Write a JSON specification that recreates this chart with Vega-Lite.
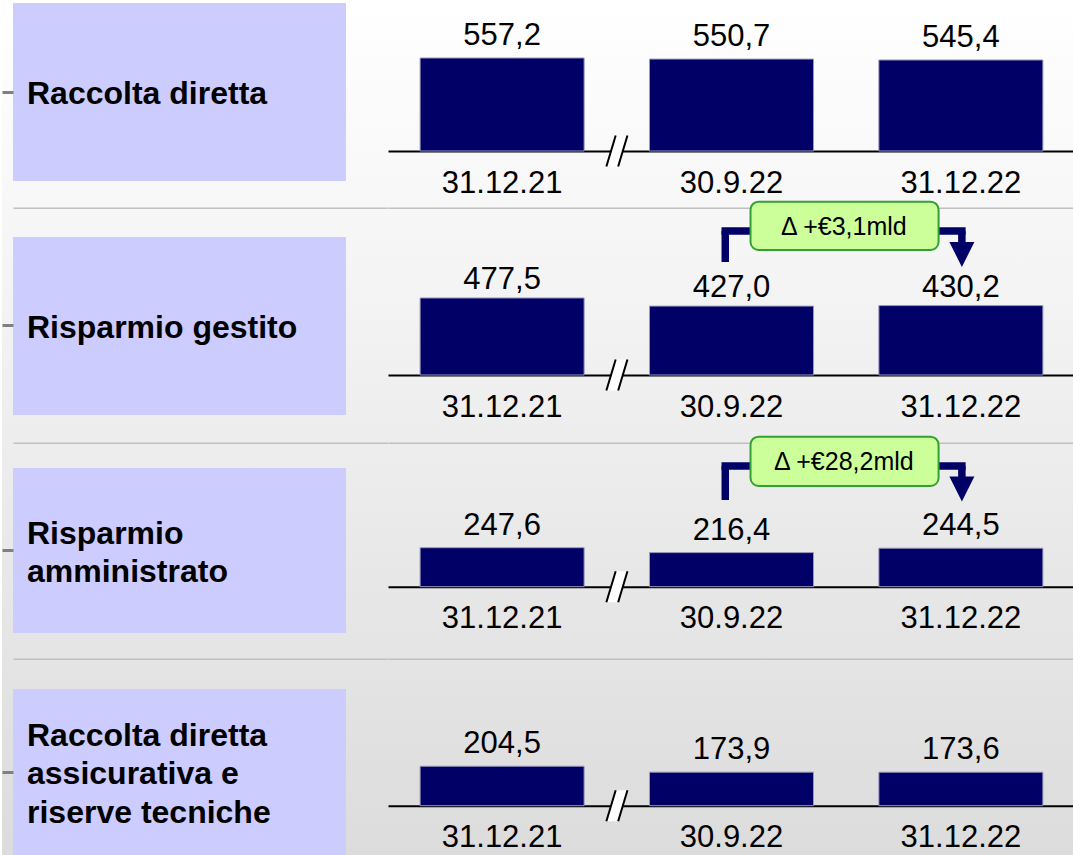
{
  "$schema": "https://vega.github.io/schema/vega-lite/v6.json",
  "padding": 0,
  "background": "#ffffff",
  "config": {
    "view": {"stroke": null},
    "font": "Liberation Sans",
    "text": {"font": "Liberation Sans"},
    "axis": {"labelFont": "Liberation Sans"},
    "locale": {"number": {"decimal": ",", "thousands": ".", "grouping": [3], "currency": ["€", ""]}}
  },
  "datasets": {
    "vals": [
      {"cat": "Raccolta diretta", "date": "31.12.21", "value": 557.2},
      {"cat": "Raccolta diretta", "date": "30.9.22", "value": 550.7},
      {"cat": "Raccolta diretta", "date": "31.12.22", "value": 545.4},
      {"cat": "Risparmio gestito", "date": "31.12.21", "value": 477.5},
      {"cat": "Risparmio gestito", "date": "30.9.22", "value": 427.0},
      {"cat": "Risparmio gestito", "date": "31.12.22", "value": 430.2},
      {"cat": "Risparmio amministrato", "date": "31.12.21", "value": 247.6},
      {"cat": "Risparmio amministrato", "date": "30.9.22", "value": 216.4},
      {"cat": "Risparmio amministrato", "date": "31.12.22", "value": 244.5},
      {"cat": "Raccolta diretta assicurativa e riserve tecniche", "date": "31.12.21", "value": 204.5},
      {"cat": "Raccolta diretta assicurativa e riserve tecniche", "date": "30.9.22", "value": 173.9},
      {"cat": "Raccolta diretta assicurativa e riserve tecniche", "date": "31.12.22", "value": 173.6}
    ],
    "labels": [
      {"cat": "Raccolta diretta", "label": "Raccolta diretta"},
      {"cat": "Risparmio gestito", "label": "Risparmio gestito"},
      {"cat": "Risparmio amministrato", "label": "Risparmio\namministrato"},
      {"cat": "Raccolta diretta assicurativa e riserve tecniche", "label": "Raccolta diretta\nassicurativa e\nriserve tecniche"}
    ],
    "breaks": [
      {"cat": "Raccolta diretta", "after": "31.12.21"},
      {"cat": "Risparmio gestito", "after": "31.12.21"},
      {"cat": "Risparmio amministrato", "after": "31.12.21"},
      {"cat": "Raccolta diretta assicurativa e riserve tecniche", "after": "31.12.21"}
    ],
    "deltas": [
      {"cat": "Risparmio gestito", "from": "30.9.22", "to": "31.12.22", "text": "Δ +€3,1mld"},
      {"cat": "Risparmio amministrato", "from": "30.9.22", "to": "31.12.22", "text": "Δ +€28,2mld"}
    ]
  },
  "columns": 2,
  "spacing": 0,
  "bounds": "flush",
  "align": "each",
  "concat": [
    {
      "width": 386, "height": 209,
      "view": {"stroke": null, "fill": {"gradient": "linear", "x1": 0, "y1": 0, "x2": 0, "y2": 1, "stops": [{"offset": 0, "color": "#ffffff"}, {"offset": 1, "color": "#f7f7f7"}]}},
      "data": {"name": "labels"},
      "transform": [{"filter": "datum.cat === 'Raccolta diretta'"}],
      "encoding": {
        "y": {"field": "label", "type": "nominal", "scale": {"paddingInner": 0, "paddingOuter": 0.08708, "align": 0.0968}, "axis": {"orient": "left", "offset": -11, "labels": false, "domain": false, "ticks": true, "tickSize": 11, "tickWidth": 3, "tickColor": "#808080", "title": null, "grid": false}}
      },
      "layer": [
        {"mark": {"type": "rect", "color": "#ccccff"},
         "encoding": {"x": {"field": "label", "type": "nominal", "scale": {"range": [11, 386], "paddingInner": 0, "paddingOuter": 0.06306, "align": 0}, "axis": {"orient": "bottom", "offset": -1, "labels": false, "ticks": false, "tickSize": 0, "domainColor": "#c0c0c0", "domainWidth": 2, "title": null, "grid": false}}}},
        {"mark": {"type": "text", "align": "left", "baseline": "middle", "dx": 14, "dy": 2, "fontSize": 32, "fontWeight": "bold", "lineBreak": "\n", "lineHeight": 38.3, "color": "#000000"},
         "encoding": {"x": {"field": "label", "type": "nominal", "bandPosition": 0, "axis": {"orient": "bottom", "offset": -1, "labels": false, "ticks": false, "tickSize": 0, "domainColor": "#c0c0c0", "domainWidth": 2, "title": null, "grid": false}}, "text": {"field": "label"}}}
      ]
    },
    {
      "width": 687, "height": 209,
      "view": {"stroke": null, "fill": {"gradient": "linear", "x1": 0, "y1": 0, "x2": 0, "y2": 1, "stops": [{"offset": 0, "color": "#ffffff"}, {"offset": 1, "color": "#f7f7f7"}]}},
      "resolve": {"axis": {"x": "independent"}},
      "layer": [
        {"data": {"name": "vals"}, "transform": [{"filter": "datum.cat === 'Raccolta diretta'"}],
         "mark": {"type": "bar", "color": "#000066", "stroke": "#9999bb", "strokeWidth": 1},
         "encoding": {
           "x": {"field": "date", "type": "nominal", "scale": {"domain": ["31.12.21", "30.9.22", "31.12.22"], "paddingInner": 0.285, "paddingOuter": 0.14}, "axis": {"orient": "bottom", "offset": -58, "title": null, "ticks": false, "tickSize": 0, "labelPadding": 17, "labelFontSize": 31, "labelFont": "Liberation Sans", "labelColor": "#000000", "labelAngle": 0, "domainColor": "#000000", "domainWidth": 2, "grid": false}},
           "y": {"field": "value", "type": "quantitative", "scale": {"domain": [-347.5, 904.7], "nice": false, "zero": false}, "axis": null},
           "y2": {"datum": 0}
         }},
        {"data": {"name": "vals"}, "transform": [{"filter": "datum.cat === 'Raccolta diretta'"}],
         "mark": {"type": "text", "baseline": "alphabetic", "dy": -13, "fontSize": 31, "color": "#000000"},
         "encoding": {
           "x": {"field": "date", "type": "nominal", "axis": {"orient": "bottom", "offset": -1, "labels": false, "ticks": false, "tickSize": 0, "domainColor": "#c0c0c0", "domainWidth": 2, "title": null, "grid": false}},
           "y": {"field": "value", "type": "quantitative", "axis": null},
           "text": {"field": "value", "type": "quantitative", "format": ".1f"}
         }},
        {"data": {"name": "breaks"}, "transform": [{"filter": "datum.cat === 'Raccolta diretta'"}],
         "mark": {"type": "point", "shape": "M-0.68,1L-0.08,-1L0.68,-1L0.08,1Z", "filled": true, "color": "#ffffff", "strokeWidth": 0, "opacity": 1, "size": 961},
         "encoding": {"x": {"field": "after", "type": "nominal", "bandPosition": 1.2, "axis": null}, "y": {"datum": 0, "axis": null}}},
        {"data": {"name": "breaks"}, "transform": [{"filter": "datum.cat === 'Raccolta diretta'"}],
         "mark": {"type": "point", "shape": "M-0.68,1L-0.08,-1M0.08,1L0.68,-1", "filled": false, "color": "#000000", "strokeWidth": 2, "opacity": 1, "size": 961},
         "encoding": {"x": {"field": "after", "type": "nominal", "bandPosition": 1.2, "axis": null}, "y": {"datum": 0, "axis": null}}}
      ]
    },
    {
      "width": 386, "height": 235,
      "view": {"stroke": null, "fill": {"gradient": "linear", "x1": 0, "y1": 0, "x2": 0, "y2": 1, "stops": [{"offset": 0, "color": "#f7f7f7"}, {"offset": 1, "color": "#ededed"}]}},
      "data": {"name": "labels"},
      "transform": [{"filter": "datum.cat === 'Risparmio gestito'"}],
      "encoding": {
        "y": {"field": "label", "type": "nominal", "scale": {"paddingInner": 0, "paddingOuter": 0.16011, "align": 0.4912}, "axis": {"orient": "left", "offset": -11, "labels": false, "domain": false, "ticks": true, "tickSize": 11, "tickWidth": 3, "tickColor": "#808080", "title": null, "grid": false}}
      },
      "layer": [
        {"mark": {"type": "rect", "color": "#ccccff"},
         "encoding": {"x": {"field": "label", "type": "nominal", "scale": {"range": [11, 386], "paddingInner": 0, "paddingOuter": 0.06306, "align": 0}, "axis": {"orient": "bottom", "offset": -1, "labels": false, "ticks": false, "tickSize": 0, "domainColor": "#c0c0c0", "domainWidth": 2, "title": null, "grid": false}}}},
        {"mark": {"type": "text", "align": "left", "baseline": "middle", "dx": 14, "dy": 2, "fontSize": 32, "fontWeight": "bold", "lineBreak": "\n", "lineHeight": 38.3, "color": "#000000"},
         "encoding": {"x": {"field": "label", "type": "nominal", "bandPosition": 0, "axis": {"orient": "bottom", "offset": -1, "labels": false, "ticks": false, "tickSize": 0, "domainColor": "#c0c0c0", "domainWidth": 2, "title": null, "grid": false}}, "text": {"field": "label"}}}
      ]
    },
    {
      "width": 687, "height": 235,
      "view": {"stroke": null, "fill": {"gradient": "linear", "x1": 0, "y1": 0, "x2": 0, "y2": 1, "stops": [{"offset": 0, "color": "#f7f7f7"}, {"offset": 1, "color": "#ededed"}]}},
      "resolve": {"axis": {"x": "independent"}},
      "layer": [
        {"data": {"name": "vals"}, "transform": [{"filter": "datum.cat === 'Risparmio gestito'"}],
         "mark": {"type": "bar", "color": "#000066", "stroke": "#9999bb", "strokeWidth": 1},
         "encoding": {
           "x": {"field": "date", "type": "nominal", "scale": {"domain": ["31.12.21", "30.9.22", "31.12.22"], "paddingInner": 0.285, "paddingOuter": 0.14}, "axis": {"orient": "bottom", "offset": -69, "title": null, "ticks": false, "tickSize": 0, "labelPadding": 17, "labelFontSize": 31, "labelFont": "Liberation Sans", "labelColor": "#000000", "labelAngle": 0, "domainColor": "#000000", "domainWidth": 2, "grid": false}},
           "y": {"field": "value", "type": "quantitative", "scale": {"domain": [-427.8, 1029.1], "nice": false, "zero": false}, "axis": null},
           "y2": {"datum": 0}
         }},
        {"data": {"name": "vals"}, "transform": [{"filter": "datum.cat === 'Risparmio gestito'"}],
         "mark": {"type": "text", "baseline": "alphabetic", "dy": -9, "fontSize": 31, "color": "#000000"},
         "encoding": {
           "x": {"field": "date", "type": "nominal", "axis": {"orient": "bottom", "offset": -1, "labels": false, "ticks": false, "tickSize": 0, "domainColor": "#c0c0c0", "domainWidth": 2, "title": null, "grid": false}},
           "y": {"field": "value", "type": "quantitative", "axis": null},
           "text": {"field": "value", "type": "quantitative", "format": ".1f"}
         }},
        {"data": {"name": "breaks"}, "transform": [{"filter": "datum.cat === 'Risparmio gestito'"}],
         "mark": {"type": "point", "shape": "M-0.68,1L-0.08,-1L0.68,-1L0.08,1Z", "filled": true, "color": "#ffffff", "strokeWidth": 0, "opacity": 1, "size": 961},
         "encoding": {"x": {"field": "after", "type": "nominal", "bandPosition": 1.2, "axis": null}, "y": {"datum": 0, "axis": null}}},
        {"data": {"name": "breaks"}, "transform": [{"filter": "datum.cat === 'Risparmio gestito'"}],
         "mark": {"type": "point", "shape": "M-0.68,1L-0.08,-1M0.08,1L0.68,-1", "filled": false, "color": "#000000", "strokeWidth": 2, "opacity": 1, "size": 961},
         "encoding": {"x": {"field": "after", "type": "nominal", "bandPosition": 1.2, "axis": null}, "y": {"datum": 0, "axis": null}}},
        {"data": {"name": "deltas"}, "transform": [{"filter": "datum.cat === 'Risparmio gestito'"}],
         "mark": {"type": "rule", "color": "#000066", "strokeWidth": 7.5, "strokeCap": "square"},
         "encoding": {"x": {"field": "from", "type": "nominal", "bandPosition": 0.462, "axis": null}, "x2": {"field": "to", "bandPosition": 0.506}, "y": {"datum": 892.7, "axis": null}}},
        {"data": {"name": "deltas"}, "transform": [{"filter": "datum.cat === 'Risparmio gestito'"}],
         "mark": {"type": "rule", "color": "#000066", "strokeWidth": 7.5},
         "encoding": {"x": {"field": "from", "type": "nominal", "bandPosition": 0.462, "axis": null}, "y": {"datum": 892.7, "axis": null}, "y2": {"datum": 700.6}}},
        {"data": {"name": "deltas"}, "transform": [{"filter": "datum.cat === 'Risparmio gestito'"}],
         "mark": {"type": "rule", "color": "#000066", "strokeWidth": 7.5},
         "encoding": {"x": {"field": "to", "type": "nominal", "bandPosition": 0.506, "axis": null}, "y": {"datum": 892.7, "axis": null}, "y2": {"datum": 812}}},
        {"data": {"name": "deltas"}, "transform": [{"filter": "datum.cat === 'Risparmio gestito'"}],
         "mark": {"type": "point", "shape": "M-1,-1L1,-1L0,1Z", "filled": true, "color": "#000066", "strokeWidth": 0, "opacity": 1, "size": 625},
         "encoding": {"x": {"field": "to", "type": "nominal", "bandPosition": 0.506, "axis": null}, "y": {"datum": 747, "axis": null}}},
        {"data": {"name": "deltas"}, "transform": [{"filter": "datum.cat === 'Risparmio gestito'"}],
         "mark": {"type": "rect", "fill": "#ccff99", "stroke": "#33a033", "strokeWidth": 2, "cornerRadius": 8},
         "encoding": {"x": {"field": "from", "type": "nominal", "bandPosition": 0.616, "axis": null}, "x2": {"field": "to", "bandPosition": 0.364}, "y": {"datum": 1074.4, "axis": null}, "y2": {"datum": 775.0}}},
        {"data": {"name": "deltas"}, "transform": [{"filter": "datum.cat === 'Risparmio gestito'"}],
         "mark": {"type": "text", "align": "center", "baseline": "middle", "dy": 1, "fontSize": 25, "color": "#000000"},
         "encoding": {"x": {"field": "from", "type": "nominal", "bandPosition": 1.185, "axis": null}, "y": {"datum": 923.8, "axis": null}, "text": {"field": "text"}}}
      ]
    },
    {
      "width": 386, "height": 216,
      "view": {"stroke": null, "fill": {"gradient": "linear", "x1": 0, "y1": 0, "x2": 0, "y2": 1, "stops": [{"offset": 0, "color": "#ededed"}, {"offset": 1, "color": "#e4e4e4"}]}},
      "data": {"name": "labels"},
      "transform": [{"filter": "datum.cat === 'Risparmio amministrato'"}],
      "encoding": {
        "y": {"field": "label", "type": "nominal", "scale": {"paddingInner": 0, "paddingOuter": 0.15455, "align": 0.4706}, "axis": {"orient": "left", "offset": -11, "labels": false, "domain": false, "ticks": true, "tickSize": 11, "tickWidth": 3, "tickColor": "#808080", "title": null, "grid": false}}
      },
      "layer": [
        {"mark": {"type": "rect", "color": "#ccccff"},
         "encoding": {"x": {"field": "label", "type": "nominal", "scale": {"range": [11, 386], "paddingInner": 0, "paddingOuter": 0.06306, "align": 0}, "axis": {"orient": "bottom", "offset": -1, "labels": false, "ticks": false, "tickSize": 0, "domainColor": "#c0c0c0", "domainWidth": 2, "title": null, "grid": false}}}},
        {"mark": {"type": "text", "align": "left", "baseline": "middle", "dx": 14, "dy": -17, "fontSize": 32, "fontWeight": "bold", "lineBreak": "\n", "lineHeight": 38.3, "color": "#000000"},
         "encoding": {"x": {"field": "label", "type": "nominal", "bandPosition": 0, "axis": {"orient": "bottom", "offset": -1, "labels": false, "ticks": false, "tickSize": 0, "domainColor": "#c0c0c0", "domainWidth": 2, "title": null, "grid": false}}, "text": {"field": "label"}}}
      ]
    },
    {
      "width": 687, "height": 216,
      "view": {"stroke": null, "fill": {"gradient": "linear", "x1": 0, "y1": 0, "x2": 0, "y2": 1, "stops": [{"offset": 0, "color": "#ededed"}, {"offset": 1, "color": "#e4e4e4"}]}},
      "resolve": {"axis": {"x": "independent"}},
      "layer": [
        {"data": {"name": "vals"}, "transform": [{"filter": "datum.cat === 'Risparmio amministrato'"}],
         "mark": {"type": "bar", "color": "#000066", "stroke": "#9999bb", "strokeWidth": 1},
         "encoding": {
           "x": {"field": "date", "type": "nominal", "scale": {"domain": ["31.12.21", "30.9.22", "31.12.22"], "paddingInner": 0.285, "paddingOuter": 0.14}, "axis": {"orient": "bottom", "offset": -73.3, "title": null, "ticks": false, "tickSize": 0, "labelPadding": 17, "labelFontSize": 31, "labelFont": "Liberation Sans", "labelColor": "#000000", "labelAngle": 0, "domainColor": "#000000", "domainWidth": 2, "grid": false}},
           "y": {"field": "value", "type": "quantitative", "scale": {"domain": [-465.4, 906.0], "nice": false, "zero": false}, "axis": null},
           "y2": {"datum": 0}
         }},
        {"data": {"name": "vals"}, "transform": [{"filter": "datum.cat === 'Risparmio amministrato'"}],
         "mark": {"type": "text", "baseline": "alphabetic", "dy": -13, "fontSize": 31, "color": "#000000"},
         "encoding": {
           "x": {"field": "date", "type": "nominal", "axis": {"orient": "bottom", "offset": -1, "labels": false, "ticks": false, "tickSize": 0, "domainColor": "#c0c0c0", "domainWidth": 2, "title": null, "grid": false}},
           "y": {"field": "value", "type": "quantitative", "axis": null},
           "text": {"field": "value", "type": "quantitative", "format": ".1f"}
         }},
        {"data": {"name": "breaks"}, "transform": [{"filter": "datum.cat === 'Risparmio amministrato'"}],
         "mark": {"type": "point", "shape": "M-0.68,1L-0.08,-1L0.68,-1L0.08,1Z", "filled": true, "color": "#ffffff", "strokeWidth": 0, "opacity": 1, "size": 961},
         "encoding": {"x": {"field": "after", "type": "nominal", "bandPosition": 1.2, "axis": null}, "y": {"datum": 0, "axis": null}}},
        {"data": {"name": "breaks"}, "transform": [{"filter": "datum.cat === 'Risparmio amministrato'"}],
         "mark": {"type": "point", "shape": "M-0.68,1L-0.08,-1M0.08,1L0.68,-1", "filled": false, "color": "#000000", "strokeWidth": 2, "opacity": 1, "size": 961},
         "encoding": {"x": {"field": "after", "type": "nominal", "bandPosition": 1.2, "axis": null}, "y": {"datum": 0, "axis": null}}},
        {"data": {"name": "deltas"}, "transform": [{"filter": "datum.cat === 'Risparmio amministrato'"}],
         "mark": {"type": "rule", "color": "#000066", "strokeWidth": 7.5, "strokeCap": "square"},
         "encoding": {"x": {"field": "from", "type": "nominal", "bandPosition": 0.462, "axis": null}, "x2": {"field": "to", "bandPosition": 0.506}, "y": {"datum": 766.3, "axis": null}}},
        {"data": {"name": "deltas"}, "transform": [{"filter": "datum.cat === 'Risparmio amministrato'"}],
         "mark": {"type": "rule", "color": "#000066", "strokeWidth": 7.5},
         "encoding": {"x": {"field": "from", "type": "nominal", "bandPosition": 0.462, "axis": null}, "y": {"datum": 766.3, "axis": null}, "y2": {"datum": 550.5}}},
        {"data": {"name": "deltas"}, "transform": [{"filter": "datum.cat === 'Risparmio amministrato'"}],
         "mark": {"type": "rule", "color": "#000066", "strokeWidth": 7.5},
         "encoding": {"x": {"field": "to", "type": "nominal", "bandPosition": 0.506, "axis": null}, "y": {"datum": 766.3, "axis": null}, "y2": {"datum": 683.8}}},
        {"data": {"name": "deltas"}, "transform": [{"filter": "datum.cat === 'Risparmio amministrato'"}],
         "mark": {"type": "point", "shape": "M-1,-1L1,-1L0,1Z", "filled": true, "color": "#000066", "strokeWidth": 0, "opacity": 1, "size": 625},
         "encoding": {"x": {"field": "to", "type": "nominal", "bandPosition": 0.506, "axis": null}, "y": {"datum": 620.3, "axis": null}}},
        {"data": {"name": "deltas"}, "transform": [{"filter": "datum.cat === 'Risparmio amministrato'"}],
         "mark": {"type": "rect", "fill": "#ccff99", "stroke": "#33a033", "strokeWidth": 2, "cornerRadius": 8},
         "encoding": {"x": {"field": "from", "type": "nominal", "bandPosition": 0.616, "axis": null}, "x2": {"field": "to", "bandPosition": 0.364}, "y": {"datum": 952.4, "axis": null}, "y2": {"datum": 639.4}}},
        {"data": {"name": "deltas"}, "transform": [{"filter": "datum.cat === 'Risparmio amministrato'"}],
         "mark": {"type": "text", "align": "center", "baseline": "middle", "dy": 1, "fontSize": 25, "color": "#000000"},
         "encoding": {"x": {"field": "from", "type": "nominal", "bandPosition": 1.185, "axis": null}, "y": {"datum": 795.9, "axis": null}, "text": {"field": "text"}}}
      ]
    },
    {
      "width": 386, "height": 195,
      "view": {"stroke": null, "fill": {"gradient": "linear", "x1": 0, "y1": 0, "x2": 0, "y2": 1, "stops": [{"offset": 0, "color": "#e4e4e4"}, {"offset": 1, "color": "#dcdcdc"}]}},
      "data": {"name": "labels"},
      "transform": [{"filter": "datum.cat === 'Raccolta diretta assicurativa e riserve tecniche'"}],
      "encoding": {
        "y": {"field": "label", "type": "nominal", "scale": {"paddingInner": 0, "paddingOuter": 0.08735, "align": 1}, "axis": {"orient": "left", "offset": -11, "labels": false, "domain": false, "ticks": true, "tickSize": 11, "tickWidth": 3, "tickColor": "#808080", "title": null, "grid": false}}
      },
      "layer": [
        {"mark": {"type": "rect", "color": "#ccccff"},
         "encoding": {"x": {"field": "label", "type": "nominal", "scale": {"range": [11, 386], "paddingInner": 0, "paddingOuter": 0.06306, "align": 0}, "axis": null}}},
        {"mark": {"type": "text", "align": "left", "baseline": "middle", "dx": 14, "dy": -36, "fontSize": 32, "fontWeight": "bold", "lineBreak": "\n", "lineHeight": 38.3, "color": "#000000"},
         "encoding": {"x": {"field": "label", "type": "nominal", "bandPosition": 0, "axis": null}, "text": {"field": "label"}}}
      ]
    },
    {
      "width": 687, "height": 195,
      "view": {"stroke": null, "fill": {"gradient": "linear", "x1": 0, "y1": 0, "x2": 0, "y2": 1, "stops": [{"offset": 0, "color": "#e4e4e4"}, {"offset": 1, "color": "#dcdcdc"}]}},
      "resolve": {"axis": {"x": "independent"}},
      "layer": [
        {"data": {"name": "vals"}, "transform": [{"filter": "datum.cat === 'Raccolta diretta assicurativa e riserve tecniche'"}],
         "mark": {"type": "bar", "color": "#000066", "stroke": "#9999bb", "strokeWidth": 1},
         "encoding": {
           "x": {"field": "date", "type": "nominal", "scale": {"domain": ["31.12.21", "30.9.22", "31.12.22"], "paddingInner": 0.285, "paddingOuter": 0.14}, "axis": {"orient": "bottom", "offset": -49.3, "title": null, "ticks": false, "tickSize": 0, "labelPadding": 17, "labelFontSize": 31, "labelFont": "Liberation Sans", "labelColor": "#000000", "labelAngle": 0, "domainColor": "#000000", "domainWidth": 2, "grid": false}},
           "y": {"field": "value", "type": "quantitative", "scale": {"domain": [-255.4, 754.9], "nice": false, "zero": false}, "axis": null},
           "y2": {"datum": 0}
         }},
        {"data": {"name": "vals"}, "transform": [{"filter": "datum.cat === 'Raccolta diretta assicurativa e riserve tecniche'"}],
         "mark": {"type": "text", "baseline": "alphabetic", "dy": -13, "fontSize": 31, "color": "#000000"},
         "encoding": {
           "x": {"field": "date", "type": "nominal", "axis": null},
           "y": {"field": "value", "type": "quantitative", "axis": null},
           "text": {"field": "value", "type": "quantitative", "format": ".1f"}
         }},
        {"data": {"name": "breaks"}, "transform": [{"filter": "datum.cat === 'Raccolta diretta assicurativa e riserve tecniche'"}],
         "mark": {"type": "point", "shape": "M-0.68,1L-0.08,-1L0.68,-1L0.08,1Z", "filled": true, "color": "#ffffff", "strokeWidth": 0, "opacity": 1, "size": 961},
         "encoding": {"x": {"field": "after", "type": "nominal", "bandPosition": 1.2, "axis": null}, "y": {"datum": 0, "axis": null}}},
        {"data": {"name": "breaks"}, "transform": [{"filter": "datum.cat === 'Raccolta diretta assicurativa e riserve tecniche'"}],
         "mark": {"type": "point", "shape": "M-0.68,1L-0.08,-1M0.08,1L0.68,-1", "filled": false, "color": "#000000", "strokeWidth": 2, "opacity": 1, "size": 961},
         "encoding": {"x": {"field": "after", "type": "nominal", "bandPosition": 1.2, "axis": null}, "y": {"datum": 0, "axis": null}}}
      ]
    }
  ]
}
